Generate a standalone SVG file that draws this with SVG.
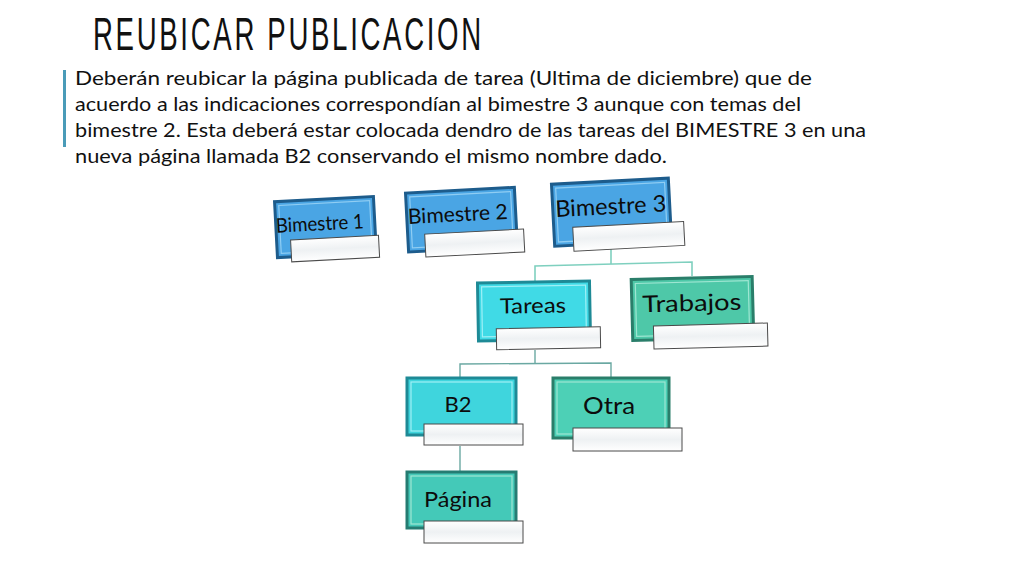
<svg xmlns="http://www.w3.org/2000/svg" width="1024" height="576" viewBox="0 0 1024 576">
<defs>
<style>
.body{font-family:"Lato","DejaVu Sans",sans-serif;font-size:19px;fill:#111}
.node{font-family:"Lato","DejaVu Sans",sans-serif;fill:#0c0c0c;text-anchor:middle}
.lbl{fill:url(#lg);stroke:#4a4a4a;stroke-width:1}
.conA{fill:none;stroke:#7fd0bf;stroke-width:1.6}
.conB{fill:none;stroke:#6aa8a2;stroke-width:1.4}
.blue{fill:#4aa5e4;stroke:#1d5c8c;stroke-width:3}
.blueIn{fill:none;stroke:#8fcdf3;stroke-width:1.2}
.cyan{fill:#40dae6;stroke:#1e8a96;stroke-width:3}
.cyanIn{fill:none;stroke:#9ff0f6;stroke-width:1.2}
.teal{fill:#4ec8a8;stroke:#2a7e6a;stroke-width:3}
.tealIn{fill:none;stroke:#9ee6d2;stroke-width:1.2}
.teal2{fill:#44c9b8;stroke:#257c72;stroke-width:3}
</style>
<linearGradient id="lg" x1="0" y1="0" x2="0" y2="1">
<stop offset="0" stop-color="#ffffff"/>
<stop offset="0.5" stop-color="#eef1f3"/>
<stop offset="1" stop-color="#ffffff"/>
</linearGradient>
</defs>
<rect width="1024" height="576" fill="#ffffff"/>
<g id="title" transform="translate(93,50) scale(0.6,1)">
<text x="0" y="0" font-family="Liberation Sans, DejaVu Sans, sans-serif" font-size="46" fill="#111" textLength="647" lengthAdjust="spacing">REUBICAR PUBLICACION</text>
</g>
<g id="text">
<rect x="63" y="70" width="3" height="77" fill="#4a9bb8"/>
<text class="body" x="75" y="85" textLength="737" lengthAdjust="spacingAndGlyphs">Deberán reubicar la página publicada de tarea (Ultima de diciembre) que de</text>
<text class="body" x="75" y="111" textLength="726" lengthAdjust="spacingAndGlyphs">acuerdo a las indicaciones correspondían al bimestre 3 aunque con temas del</text>
<text class="body" x="75" y="137" textLength="791" lengthAdjust="spacingAndGlyphs">bimestre 2. Esta deberá estar colocada dendro de las tareas del BIMESTRE 3 en una</text>
<text class="body" x="75" y="163" textLength="592" lengthAdjust="spacingAndGlyphs">nueva página llamada B2 conservando el mismo nombre dado.</text>
</g>
<g id="connectors">
<polyline class="conA" points="611,249 611,264"/>
<polyline class="conA" points="535,282 535,266 692,262 692,276"/>
<polyline class="conB" points="535,350 535,364"/>
<polyline class="conB" points="460,378 460,364 611,363 611,378"/>
<polyline class="conB" points="460,446 460,472"/>
</g>
<g id="bimestre1" transform="rotate(-3 327 228)">
<rect class="blue" x="276" y="199" width="99" height="56"/>
<rect class="blueIn" x="280" y="203" width="91" height="48"/>
<text class="node" x="320" y="230" font-size="20" textLength="88" lengthAdjust="spacingAndGlyphs">Bimestre 1</text>
<rect class="lbl" x="290" y="238" width="88" height="22"/>
</g>
<g id="bimestre2" transform="rotate(-3 465 220)">
<rect class="blue" x="407" y="190" width="109" height="59"/>
<rect class="blueIn" x="411" y="194" width="101" height="51"/>
<text class="node" x="458" y="221" font-size="21" textLength="100" lengthAdjust="spacingAndGlyphs">Bimestre 2</text>
<rect class="lbl" x="424" y="232" width="99" height="23"/>
</g>
<g id="bimestre3" transform="rotate(-3 615 212)">
<rect class="blue" x="553" y="181" width="117" height="62"/>
<rect class="blueIn" x="557" y="185" width="109" height="54"/>
<text class="node" x="611" y="214" font-size="23" textLength="111" lengthAdjust="spacingAndGlyphs">Bimestre 3</text>
<rect class="lbl" x="572" y="225" width="111" height="24"/>
</g>
<g id="tareas" transform="rotate(-1 535 312)">
<rect class="cyan" x="478" y="282" width="112" height="58"/>
<rect class="cyanIn" x="482" y="286" width="104" height="50"/>
<text class="node" x="533" y="313" font-size="21" textLength="66" lengthAdjust="spacingAndGlyphs">Tareas</text>
<rect class="lbl" x="496" y="328" width="104" height="21"/>
</g>
<g id="trabajos" transform="rotate(-1.5 692 310)">
<rect class="teal" x="632" y="278" width="121" height="61"/>
<rect class="tealIn" x="636" y="282" width="113" height="53"/>
<text class="node" x="692" y="311" font-size="23" textLength="99" lengthAdjust="spacingAndGlyphs">Trabajos</text>
<rect class="lbl" x="653" y="325" width="114" height="23"/>
</g>
<g id="b2">
<rect class="cyan" x="407" y="378" width="109" height="57" style="fill:#3fd5dd"/>
<rect class="cyanIn" x="411" y="382" width="101" height="49"/>
<text class="node" x="458" y="412" font-size="22">B2</text>
<rect class="lbl" x="424" y="424" width="99" height="21"/>
</g>
<g id="otra">
<rect class="teal" x="553" y="378" width="116" height="60" style="fill:#4dd0b6"/>
<rect class="tealIn" x="557" y="382" width="108" height="52"/>
<text class="node" x="609" y="414" font-size="23" textLength="52" lengthAdjust="spacingAndGlyphs">Otra</text>
<rect class="lbl" x="573" y="428" width="109" height="23"/>
</g>
<g id="pagina">
<rect class="teal2" x="407" y="472" width="109" height="56"/>
<rect class="tealIn" x="411" y="476" width="101" height="48"/>
<text class="node" x="458" y="507" font-size="22" textLength="68" lengthAdjust="spacingAndGlyphs">Página</text>
<rect class="lbl" x="424" y="521" width="99" height="22"/>
</g>
</svg>
